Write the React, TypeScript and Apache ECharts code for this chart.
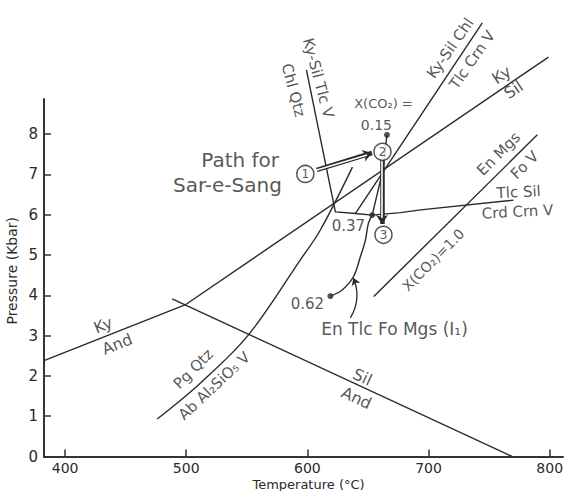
import React, { useEffect, useRef } from "react";
import * as echarts from "echarts";

// Axis extents and ticks
const T_MIN = 382.6;
const T_MAX = 811;
const P_MIN = 0;
const P_MAX = 8.87;
const tempTicks = [400, 500, 600, 700, 800];
const pressTicks = [0, 1, 2, 3, 4, 5, 6, 7, 8];

// Reaction boundaries [T (°C), P (kbar)]
const kyAnd = [[382.6, 2.38], [499, 3.76]];
const kySil = [[499, 3.76], [799, 9.91]];
const silAnd = [[488.4, 3.91], [769, 0]];
const pgQtz = [[476, 0.93], [511.6, 1.82], [551.2, 3.01], [594.2, 4.88], [610.7, 5.62], [637.2, 7.18]];
const chlQtzTlcSil = [[599.2, 9.59], [623.1, 6.07], [639.7, 6.03], [653.5, 5.99], [676.9, 6.05], [693.4, 6.12], [770.2, 6.36]];
const kySilChl = [[639.7, 6.03], [744.4, 10.76]];
const enMgs = [[654.8, 3.97], [789.8, 7.98]];
const i1Lower = [[619, 3.98], [628.7, 4.13], [638, 4.46], [643.8, 4.96], [647.9, 5.37], [650.4, 5.79], [653.5, 5.99]];
const i1Upper = [[653.5, 5.99], [662, 7.06], [665.7, 7.98]];

// X(CO2) dots
const co2Dots = [[665.7, 7.98], [653.5, 5.99], [619, 3.98]];

// Numbered path stations
const stations = [
  { id: "1", pos: [598.3, 7.01] },
  { id: "2", pos: [662, 7.56] },
  { id: "3", pos: [662.8, 5.5] },
];

// Path arrows
const pathArrow12 = [[607.8, 7.11], [653.3, 7.53]];
const pathArrow23 = [[661.6, 7.36], [661.6, 5.77]];
const i1Pointer = [[635.5, 3.44], [638, 4.43]];

// Text annotations: text, position [T, P], rotation (deg), font size
const labelTexts = ["Path for", "Sar-e-Sang", "X(CO₂) =", "0.15", "0.37", "0.62", "En Tlc Fo Mgs (I₁)",
  "Ky", "And", "Pg Qtz", "Ab Al₂SiO₅ V", "Sil", "And", "Ky-Sil Tlc V", "Chl Qtz",
  "Ky-Sil Chl", "Tlc Crn V", "Ky", "Sil", "En Mgs", "Fo V", "Tlc Sil", "Crd Crn V", "X(CO₂)=1.0"];
const labelPos = [[544.5, 7.36], [534, 6.74], [662.8, 8.77], [657, 8.23], [633.9, 5.72], [600, 3.78], [671.9, 3.16],
  [431.4, 3.26], [443, 2.79], [505.8, 2.17], [523.1, 1.75], [645.5, 1.97], [640.5, 1.45], [609, 9.39], [588.4, 9.09],
  [718, 10.13], [736, 9.84], [760.3, 9.47], [770.2, 9.1], [757.9, 7.51], [779.3, 7.23], [774.4, 6.56], [773.5, 6.07], [703.9, 4.88]];
const labelRot = [0, 0, 0, 0, 0, 0, 0,
  21.6, 21.6, 45, 43, -24.8, -24.8, -75, -75,
  55, 55, 34, 34, 45, 45, 3, 3, 45];
const labelSize = [20, 20, 13, 14, 15, 15, 17,
  16, 16, 15, 15, 16, 16, 15, 15,
  15, 15, 16, 16, 15, 15, 15, 15, 14];

const FONT = "DejaVu Sans";
const INK = "#2a2a2a";

function boundary(data: number[][], smooth: number | boolean = false) {
  return {
    type: "line",
    data,
    showSymbol: false,
    symbol: "none",
    smooth,
    clip: false,
    silent: true,
    lineStyle: { color: INK, width: 1.4 },
    z: 2,
  };
}

export default function App() {
  const ref = useRef<HTMLDivElement>(null);

  useEffect(() => {
    document.body.style.margin = "0";
    if (!ref.current) return;
    const chart = echarts.init(ref.current, null, { renderer: "svg" });

    const labelData = labelTexts.map((t, i) => ({
      name: t,
      value: labelPos[i],
      label: { rotate: labelRot[i], fontSize: labelSize[i] },
    }));

    chart.setOption({
      animation: false,
      backgroundColor: "#fff",
      textStyle: { fontFamily: FONT },
      grid: { left: 44, right: 2, top: 99, bottom: 34.5, outerBoundsMode: "none", containLabel: false },
      xAxis: {
        type: "value",
        min: T_MIN,
        max: T_MAX,
        name: "Temperature (°C)",
        nameLocation: "middle",
        nameGap: 21,
        nameMoveOverlap: false,
        nameTextStyle: { fontSize: 13, lineHeight: 13, color: INK, fontFamily: FONT, padding: [0, 0, 0, 10] },
        axisLine: { lineStyle: { color: "#333", width: 2 } },
        axisTick: { inside: true, length: 7, customValues: tempTicks, lineStyle: { color: "#333", width: 1.5 } },
        axisLabel: { customValues: tempTicks, fontSize: 14, lineHeight: 14, color: INK, margin: 4, fontFamily: FONT },
        splitLine: { show: false },
      },
      yAxis: {
        type: "value",
        min: P_MIN,
        max: P_MAX,
        name: "Pressure (Kbar)",
        nameLocation: "middle",
        nameGap: 25,
        nameMoveOverlap: false,
        nameTextStyle: { fontSize: 14, color: INK, fontFamily: FONT, padding: [0, 0, 0, 14] },
        axisLine: { lineStyle: { color: "#333", width: 2 } },
        axisTick: { inside: true, length: 7, customValues: pressTicks, lineStyle: { color: "#333", width: 1.5 } },
        axisLabel: { customValues: pressTicks, fontSize: 15, color: INK, margin: 6, fontFamily: FONT },
        splitLine: { show: false },
      },
      series: [
        boundary(kyAnd),
        boundary(kySil),
        boundary(silAnd),
        boundary(pgQtz, 0.35),
        boundary(chlQtzTlcSil),
        boundary(kySilChl),
        boundary(enMgs),
        boundary(i1Lower, 0.35),
        boundary(i1Upper),
        {
          type: "lines",
          coordinateSystem: "cartesian2d",
          silent: true,
          z: 4,
          symbol: ["none", "arrow"],
          symbolSize: 9,
          lineStyle: { color: INK, width: 4.5, opacity: 1 },
          data: [{ coords: pathArrow12 }, { coords: pathArrow23 }],
        },
        {
          type: "lines",
          coordinateSystem: "cartesian2d",
          silent: true,
          z: 5,
          symbol: ["none", "none"],
          lineStyle: { color: "#fff", width: 1.6, opacity: 1 },
          data: [
            { coords: [pathArrow12[0], [pathArrow12[1][0] - 4, pathArrow12[1][1] - 0.05]] },
            { coords: [pathArrow23[0], [pathArrow23[1][0], pathArrow23[1][1] + 0.15]] },
          ],
        },
        {
          type: "lines",
          coordinateSystem: "cartesian2d",
          silent: true,
          z: 4,
          symbol: ["none", "arrow"],
          symbolSize: 7,
          lineStyle: { color: INK, width: 1.3, opacity: 1, curveness: -0.25 },
          data: [{ coords: i1Pointer }],
        },
        {
          type: "scatter",
          data: co2Dots,
          symbol: "circle",
          symbolSize: 6,
          clip: false,
          silent: true,
          itemStyle: { color: INK },
          z: 6,
        },
        {
          type: "scatter",
          data: stations.map((s) => ({ name: s.id, value: s.pos })),
          symbol: "circle",
          symbolSize: 17,
          clip: false,
          silent: true,
          itemStyle: { color: "#fff", borderColor: INK, borderWidth: 1.5 },
          label: { show: true, position: "inside", formatter: "{b}", fontSize: 12, color: INK, fontFamily: FONT },
          z: 7,
        },
        {
          type: "scatter",
          data: labelData,
          symbolSize: 0.1,
          clip: false,
          silent: true,
          itemStyle: { color: "transparent" },
          label: {
            show: true,
            position: "inside",
            formatter: "{b}",
            color: INK,
            fontFamily: FONT,
          },
          z: 8,
        },
      ],
    });

    return () => chart.dispose();
  }, []);

  return <div ref={ref} style={{ width: 565, height: 491 }} />;
}
